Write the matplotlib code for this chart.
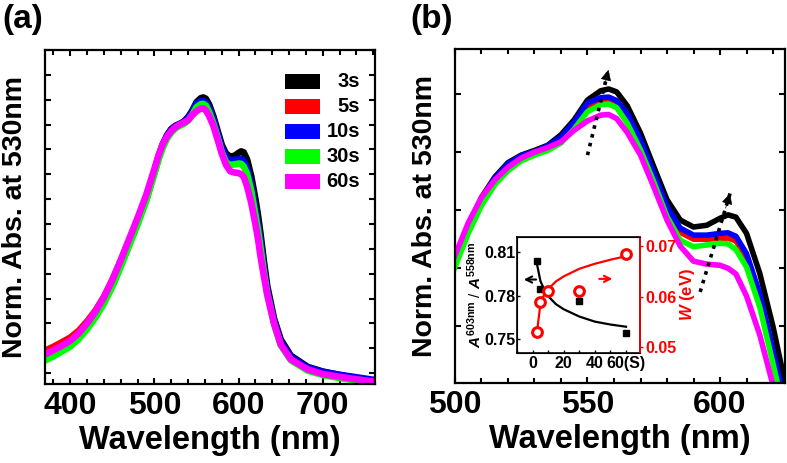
import matplotlib
matplotlib.use("Agg")
import matplotlib.pyplot as plt
from matplotlib.patches import Rectangle
from matplotlib.ticker import MultipleLocator, FixedLocator

plt.rcParams['font.family'] = ['Liberation Sans', 'DejaVu Sans']
plt.rcParams['font.weight'] = 'bold'
plt.rcParams['mathtext.fontset'] = 'custom'
plt.rcParams['mathtext.rm'] = 'Liberation Sans:bold'
plt.rcParams['mathtext.it'] = 'Liberation Sans:bold:italic'

# ---- spectra (normalised at 530 nm) ----
wl = [370, 380, 390, 400, 410, 420, 430, 440, 450, 460,
      470, 480, 490, 500, 505, 510, 515, 520, 525, 530,
      535, 540, 545, 550, 555, 558, 561, 565, 570, 575,
      580, 585, 590, 595, 600, 603, 606, 610, 615, 620,
      623, 626, 630, 634, 642, 650, 662, 682, 700, 720,
      740, 762]

abs_3s = [0.058, 0.076, 0.095, 0.115, 0.145, 0.185, 0.232, 0.288, 0.357, 0.437,
          0.522, 0.607, 0.700, 0.812, 0.872, 0.922, 0.957, 0.982, 0.995, 1.003,
          1.012, 1.030, 1.056, 1.090, 1.106, 1.109, 1.104, 1.080, 1.033, 0.975,
          0.918, 0.883, 0.871, 0.874, 0.886, 0.892, 0.888, 0.860, 0.791, 0.699,
          0.635, 0.560, 0.450, 0.350, 0.220, 0.135, 0.070, 0.025, 0.006, -0.008,
          -0.020, -0.032]
abs_5s = [0.090, 0.106, 0.124, 0.143, 0.170, 0.208, 0.252, 0.307, 0.375, 0.452,
          0.534, 0.617, 0.706, 0.815, 0.872, 0.920, 0.954, 0.979, 0.993, 1.001,
          1.010, 1.024, 1.048, 1.080, 1.089, 1.090, 1.084, 1.062, 1.016, 0.958,
          0.900, 0.862, 0.850, 0.850, 0.851, 0.852, 0.847, 0.818, 0.750, 0.652,
          0.592, 0.522, 0.420, 0.330, 0.207, 0.122, 0.062, 0.020, 0.002, -0.010,
          -0.021, -0.033]
abs_10s = [0.055, 0.073, 0.092, 0.112, 0.142, 0.182, 0.229, 0.285, 0.354, 0.434,
           0.519, 0.604, 0.696, 0.808, 0.868, 0.919, 0.955, 0.980, 0.994, 1.001,
           1.011, 1.026, 1.052, 1.085, 1.094, 1.095, 1.089, 1.067, 1.021, 0.964,
           0.906, 0.869, 0.857, 0.857, 0.860, 0.861, 0.855, 0.825, 0.756, 0.658,
           0.598, 0.528, 0.425, 0.334, 0.210, 0.125, 0.065, 0.022, 0.005, -0.007,
           -0.017, -0.028]
abs_30s = [0.050, 0.068, 0.087, 0.107, 0.137, 0.177, 0.224, 0.280, 0.348, 0.428,
           0.513, 0.598, 0.690, 0.802, 0.860, 0.908, 0.944, 0.968, 0.985, 0.995,
           1.003, 1.016, 1.040, 1.070, 1.082, 1.083, 1.077, 1.050, 1.004, 0.949,
           0.889, 0.848, 0.837, 0.840, 0.843, 0.842, 0.832, 0.802, 0.733, 0.635,
           0.575, 0.505, 0.405, 0.320, 0.198, 0.112, 0.052, 0.010, -0.008, -0.020,
           -0.030, -0.042]
abs_60s = [0.075, 0.092, 0.110, 0.130, 0.160, 0.200, 0.248, 0.305, 0.375, 0.455,
           0.540, 0.625, 0.715, 0.822, 0.878, 0.922, 0.952, 0.974, 0.990, 1.000,
           1.008, 1.018, 1.038, 1.054, 1.064, 1.065, 1.058, 1.034, 0.995, 0.940,
           0.883, 0.838, 0.812, 0.807, 0.805, 0.800, 0.790, 0.752, 0.685, 0.598,
           0.540, 0.470, 0.390, 0.315, 0.200, 0.115, 0.055, 0.015, -0.004, -0.015,
           -0.025, -0.035]

labels = ["3s", "5s", "10s", "30s", "60s"]
colors = ["black", "red", "blue", "#00ff00", "magenta"]
spectra = [abs_3s, abs_5s, abs_10s, abs_30s, abs_60s]

# ---- inset data ----
t_ratio = [3, 5, 30, 60]
ratio = [0.8038, 0.7846, 0.7761, 0.7543]
t_fit = [3, 5, 7.5, 10, 15, 20, 30, 40, 50, 60]
ratio_fit = [0.8005, 0.7900, 0.7840, 0.7795, 0.7740, 0.7705, 0.7655, 0.7620, 0.7600, 0.7585]
t_w = [3, 5, 10, 30, 60]
w_ev = [0.0529, 0.0590, 0.0611, 0.0611, 0.0684]
w_fit = [0.0535, 0.0585, 0.0605, 0.0615, 0.0630, 0.0640, 0.0655, 0.0665, 0.0673, 0.0680]


def style_axes(ax):
    for sp in ax.spines.values():
        sp.set_linewidth(1.6)
    ax.tick_params(which='both', direction='in', top=True, right=True,
                   width=1.5, labelsize=23, pad=5)
    ax.tick_params(which='major', length=4.5)
    ax.tick_params(which='minor', length=3.5)
    ax.set_yticklabels([])
    ax.set_xlabel("Wavelength (nm)", fontsize=23.5, fontweight='bold', labelpad=3)
    ax.set_ylabel("Norm. Abs. at 530nm", fontsize=20.5, fontweight='bold')
    ax.yaxis.set_label_coords(-0.052, 0.5)


fig = plt.figure(figsize=(7.87, 4.63), dpi=100)

# ---------------- panel (a) ----------------
ax1 = fig.add_axes([0.0572, 0.1706, 0.4193, 0.7214])
for y, c in zip(spectra, colors):
    ax1.plot(wl, y, color=c, lw=4.8, solid_capstyle='butt')
ax1.set_xlim(370, 762)
ax1.set_ylim(-0.044, 1.30)
ax1.xaxis.set_major_locator(FixedLocator([400, 500, 600, 700]))
ax1.xaxis.set_minor_locator(MultipleLocator(20))
ax1.yaxis.set_major_locator(MultipleLocator(0.1))
style_axes(ax1)

# legend drawn by hand (right aligned labels)
for i, (lab, c) in enumerate(zip(labels, colors)):
    yc = 0.907 - i * 0.0749
    ax1.add_patch(Rectangle((0.727, yc - 0.0225), 0.106, 0.045, transform=ax1.transAxes,
                            facecolor=c, edgecolor='none'))
    ax1.text(0.955, yc, lab, transform=ax1.transAxes, ha='right', va='center',
             fontsize=14.5, fontweight='bold')

fig.text(0.003, 0.992, "(a)", fontsize=24, fontweight='bold', ha='left', va='top')

# ---------------- panel (b) ----------------
ax2 = fig.add_axes([0.5781, 0.1728, 0.4193, 0.7214])
for y, c in zip(spectra, colors):
    ax2.plot(wl, y, color=c, lw=4.0, solid_capstyle='butt')
ax2.set_xlim(500, 624.5)
ax2.set_ylim(0.602, 1.178)
ax2.xaxis.set_major_locator(MultipleLocator(50))
ax2.xaxis.set_minor_locator(MultipleLocator(10))
ax2.yaxis.set_major_locator(FixedLocator([0.7, 0.8, 0.9, 1.0, 1.1]))
style_axes(ax2)

# dotted trend arrows
for (x0, y0, x1, y1) in [(550.0, 0.995, 557.9, 1.142), (592.5, 0.759, 603.8, 0.929)]:
    ax2.plot([x0, x1], [y0, y1], color='k', lw=2.6, ls=(0, (1, 1.5)))
    ax2.annotate('', xy=(x1, y1), xytext=(x0 + (x1 - x0) * 0.85, y0 + (y1 - y0) * 0.85),
                 arrowprops=dict(arrowstyle='-|>', color='k', lw=0.5, mutation_scale=17,
                                 shrinkA=0, shrinkB=0))

fig.text(0.521, 0.992, "(b)", fontsize=24, fontweight='bold', ha='left', va='top')

# ---------------- inset ----------------
ins = fig.add_axes([0.657, 0.2376, 0.1563, 0.2505])
ins.set_facecolor('white')
ins.plot(t_fit, ratio_fit, color='k', lw=1.6)
ins.plot(t_ratio, ratio, 's', color='k', ms=5)
ins.set_xlim(-10, 69)
ins.set_ylim(0.7404, 0.8203)
ins.set_xticks([0, 20, 40, 60])
ins.set_xticklabels(["0", "20", "40", "60(S)"])
ins.xaxis.set_minor_locator(MultipleLocator(10))
ins.set_yticks([0.75, 0.78, 0.81])
ins.set_yticklabels(["0.75", "0.78", "0.81"])
ins.tick_params(which='both', direction='in', labelsize=11.5, width=1.0, length=2.5, pad=2)
ins.tick_params(axis='y', which='both', pad=1)
ins.set_ylabel(r"$A^{603\mathrm{nm}}$ / $A^{558\mathrm{nm}}$", fontsize=11, labelpad=0)
ins.annotate('', xy=(-7.5, 0.791), xytext=(4, 0.791),
             arrowprops=dict(arrowstyle='->', color='k', lw=1.5, mutation_scale=11))
for sp in ins.spines.values():
    sp.set_linewidth(1.2)

ins2 = ins.twinx()
ins2.plot(t_fit, w_fit, color='red', lw=1.6)
ins2.plot(t_w, w_ev, 'o', mfc='white', mec='red', mew=2.2, ms=7)
ins2.set_ylim(0.0488, 0.0718)
ins2.set_yticks([0.05, 0.06, 0.07])
ins2.set_yticklabels(["0.05", "0.06", "0.07"])
ins2.tick_params(axis='y', direction='out', colors='red', labelsize=11.5, width=1.0, length=2.5, pad=1)
ins2.spines['right'].set_color('red')
ins2.spines['right'].set_linewidth(1.2)
ins2.set_ylabel(r"$W$ (eV)", color='red', fontsize=12, fontweight='bold', labelpad=1)
ins2.annotate('', xy=(53, 0.0635), xytext=(41, 0.0635),
              arrowprops=dict(arrowstyle='->', color='red', lw=1.5, mutation_scale=11))

fig.savefig("out.png", dpi=100)
